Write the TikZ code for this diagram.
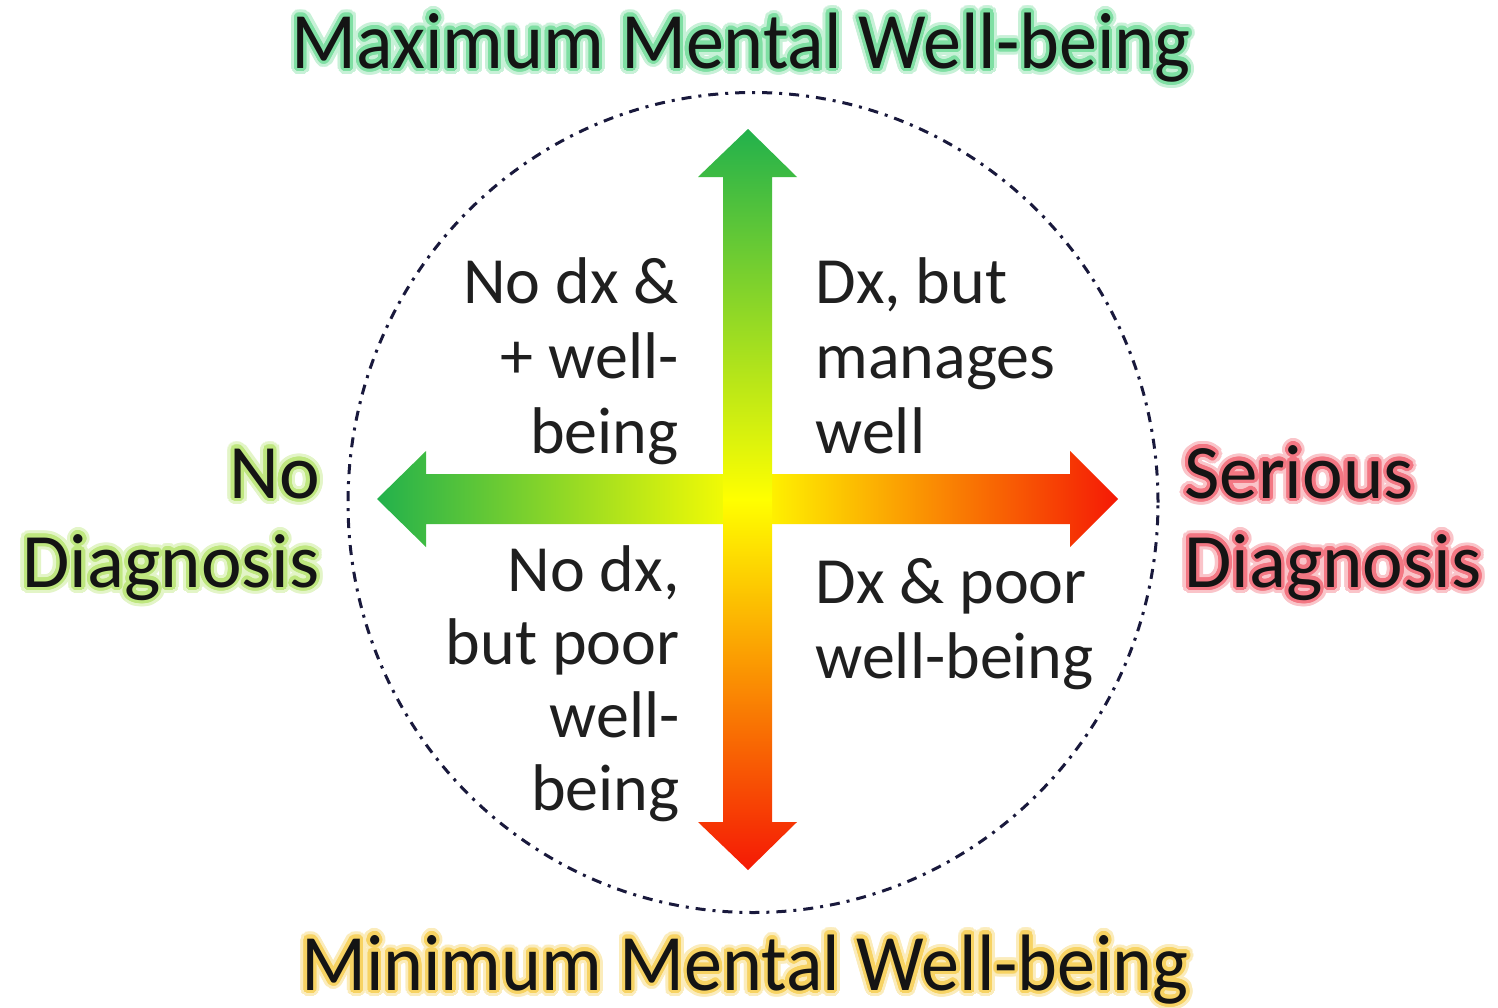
\documentclass[tikz,border=0pt]{standalone}
\usepackage{fontspec}
\setmainfont{Carlito}
\usepackage{contour}
\usetikzlibrary{shapes.geometric}
\contournumber{24}
\definecolor{agreen}{RGB}{34,177,76}
\definecolor{ayellow}{RGB}{255,255,0}
\definecolor{ared}{RGB}{245,25,5}
\definecolor{ringc}{RGB}{25,25,60}
\definecolor{glowG}{RGB}{95,215,140}
\definecolor{glowL}{RGB}{175,225,95}
\definecolor{glowR}{RGB}{240,85,100}
\definecolor{glowY}{RGB}{245,200,60}
\newcommand\glowtext[2]{\rlap{\contourlength{3.3pt}\contour{#1!35}{\color{#1!35}#2}}{\contourlength{1.7pt}\contour{#1!80}{#2}}}
\tikzset{
  title/.style={inner sep=0pt, font=\fontsize{40}{44}\selectfont, text=black!92},
  side/.style={inner sep=0pt, font=\fontsize{38.5}{44.5}\selectfont, text=black!92},
  quad/.style={inner sep=0pt, font=\fontsize{33}{37.5}\selectfont, text=black!88},
  ring/.style={draw=ringc, line width=1.5pt, dash pattern=on 5pt off 3.5pt on 1.5pt off 3.5pt}
}
\begin{document}
\begin{tikzpicture}[x=0.5pt,y=-0.5pt]
\useasboundingbox[fill=white] (0,0) rectangle (1498,1007);
% ring
\node[ring, ellipse, minimum width=405pt, minimum height=410pt, inner sep=0pt] (ring) at (753,502.5) {};
% horizontal arrow
\path[left color=agreen, right color=ared, middle color=ayellow]
  (426,474) -- (426,451) -- (377,499) -- (426,547) -- (426,524) -- (1070,524)
  -- (1070,547) -- (1118,499) -- (1070,451) -- (1070,474) -- cycle;
% vertical arrow
\path[top color=agreen, bottom color=ared, middle color=ayellow]
  (723,177) -- (698,177) -- (748,129) -- (797,177) -- (772,177) -- (772,822)
  -- (797,822) -- (748,870) -- (698,822) -- (723,822) -- cycle;
% titles
\node[title, anchor=base] (maxT) at (741,68) {\scalebox{0.95}[1]{\glowtext{glowG}{Maximum Mental Well-being}}};
\node[title, anchor=base] (minT) at (745,990) {\scalebox{0.95}[1]{\glowtext{glowY}{Minimum Mental Well-being}}};
% sides (base anchor = last line)
\node[side, anchor=base east, align=right] (noD) at (320,587) {\glowtext{glowL}{No}\\\glowtext{glowL}{Diagnosis}};
\node[side, anchor=base west, align=left] (serD) at (1184,587) {\glowtext{glowR}{Serious}\\\glowtext{glowR}{Diagnosis}};
% quadrants
\node[quad, anchor=base east, align=right] (qTL) at (679,453) {No dx \&\\+ well-\\being};
\node[quad, anchor=base west, align=left] (qTR) at (815,453) {Dx, but\\manages\\well};
\node[quad, anchor=base east, align=right, font=\fontsize{33}{36.5}\selectfont] (qBL) at (680,810) {No dx,\\but poor\\well-\\being};
\node[quad, anchor=base west, align=left] (qBR) at (815,678) {Dx \& poor\\well-being};
\end{tikzpicture}
\end{document}
